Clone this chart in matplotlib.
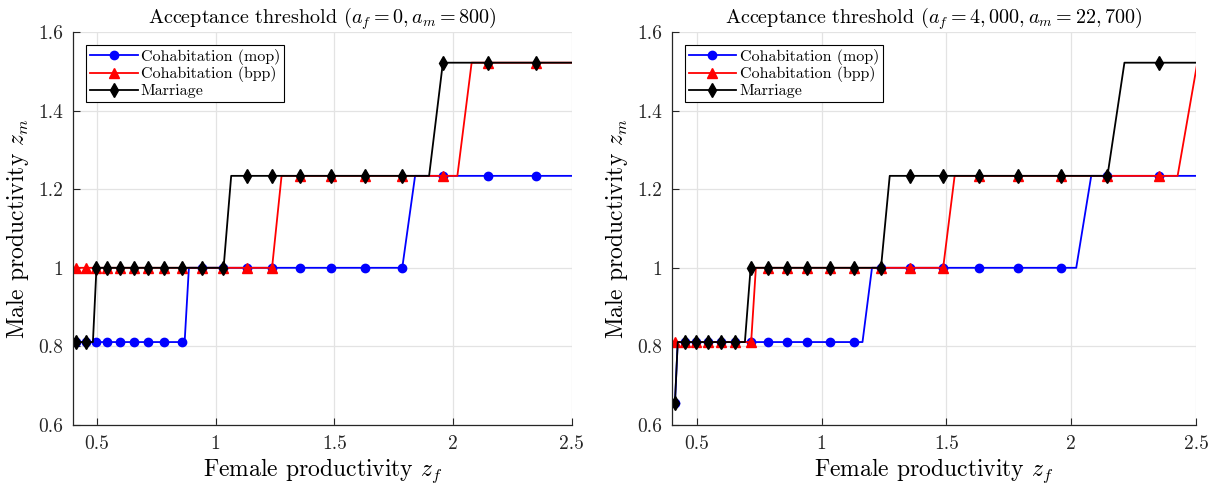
import matplotlib
matplotlib.use("Agg")
import matplotlib.pyplot as plt
from matplotlib.lines import Line2D

plt.rcParams['font.family'] = 'serif'
plt.rcParams['font.serif'] = ['cmr10', 'DejaVu Serif']
plt.rcParams['mathtext.fontset'] = 'cm'
plt.rcParams['axes.unicode_minus'] = False
plt.rcParams['axes.formatter.use_mathtext'] = True

# Marker grid (female productivity), shared by both panels
xm = [0.413, 0.454, 0.499, 0.545, 0.596, 0.655, 0.716, 0.785, 0.861, 0.943,
      1.032, 1.131, 1.238, 1.356, 1.487, 1.630, 1.786, 1.957, 2.145, 2.350]

# Left panel: marker values
mop_L = [0.811, 0.811, 0.811, 0.811, 0.811, 0.811, 0.811, 0.811, 0.811, 1.0,
         1.0, 1.0, 1.0, 1.0, 1.0, 1.0, 1.0, 1.234, 1.234, 1.234]
bpp_L = [1.0, 1.0, 1.0, 1.0, 1.0, 1.0, 1.0, 1.0, 1.0, 1.0,
         1.0, 1.0, 1.0, 1.234, 1.234, 1.234, 1.234, 1.234, 1.522, 1.522]
mar_L = [0.811, 0.811, 1.0, 1.0, 1.0, 1.0, 1.0, 1.0, 1.0, 1.0,
         1.0, 1.234, 1.234, 1.234, 1.234, 1.234, 1.234, 1.522, 1.522, 1.522]

# Left panel: line corners
mop_Lx = [0.413, 0.870, 0.888, 1.786, 1.840, 2.5]
mop_Ly = [0.811, 0.811, 1.0, 1.0, 1.234, 1.234]
bpp_Lx = [0.413, 1.238, 1.278, 2.018, 2.078, 2.5]
bpp_Ly = [1.0, 1.0, 1.234, 1.234, 1.522, 1.522]
mar_Lx = [0.413, 0.484, 0.499, 1.034, 1.066, 1.899, 1.957, 2.5]
mar_Ly = [0.811, 0.811, 1.0, 1.0, 1.234, 1.234, 1.522, 1.522]

# Right panel: marker values
mop_R = [0.657, 0.811, 0.811, 0.811, 0.811, 0.811, 0.811, 0.811, 0.811, 0.811,
         0.811, 0.811, 1.0, 1.0, 1.0, 1.0, 1.0, 1.0, 1.234, 1.234]
bpp_R = [0.811, 0.811, 0.811, 0.811, 0.811, 0.811, 0.811, 1.0, 1.0, 1.0,
         1.0, 1.0, 1.0, 1.0, 1.0, 1.234, 1.234, 1.234, 1.234, 1.234]
mar_R = [0.657, 0.811, 0.811, 0.811, 0.811, 0.811, 1.0, 1.0, 1.0, 1.0,
         1.0, 1.0, 1.0, 1.234, 1.234, 1.234, 1.234, 1.234, 1.234, 1.522]

# Right panel: line corners
mop_Rx = [0.413, 0.424, 1.164, 1.202, 2.020, 2.080, 2.5]
mop_Ry = [0.657, 0.811, 0.811, 1.0, 1.0, 1.234, 1.234]
bpp_Rx = [0.413, 0.718, 0.737, 1.487, 1.533, 2.426, 2.505]
bpp_Ry = [0.811, 0.811, 1.0, 1.0, 1.234, 1.234, 1.522]
mar_Rx = [0.413, 0.424, 0.693, 0.716, 1.238, 1.273, 2.145, 2.213, 2.5]
mar_Ry = [0.657, 0.811, 0.811, 1.0, 1.0, 1.234, 1.234, 1.522, 1.522]

titles = [r'Acceptance threshold ($a_f = 0, a_m = 800$)',
          r'Acceptance threshold ($a_f = 4,000, a_m = 22,700$)']
labels = ['Cohabitation (mop)', 'Cohabitation (bpp)', 'Marriage']
xticks = [0.5, 1, 1.5, 2, 2.5]
xticklabels = ['0.5', '1', '1.5', '2', '2.5']
yticks = [0.6, 0.8, 1.0, 1.2, 1.4, 1.6]
yticklabels = ['0.6', '0.8', '1', '1.2', '1.4', '1.6']

styles = [dict(color='blue', marker='o', ms=6),
          dict(color='red', marker='^', ms=6.5),
          dict(color='black', marker='d', ms=7.5)]

fig = plt.figure(figsize=(12.22, 4.93), dpi=100)
ax1 = fig.add_axes([0.0597, 0.138, 0.4083, 0.797])
ax2 = fig.add_axes([0.5497, 0.138, 0.4291, 0.797])

panels = [
    (ax1, [(mop_Lx, mop_Ly, mop_L), (bpp_Lx, bpp_Ly, bpp_L), (mar_Lx, mar_Ly, mar_L)]),
    (ax2, [(mop_Rx, mop_Ry, mop_R), (bpp_Rx, bpp_Ry, bpp_R), (mar_Rx, mar_Ry, mar_R)]),
]

for i, (ax, series) in enumerate(panels):
    for (lx, ly, my), st in zip(series, styles):
        ax.plot(lx, ly, color=st['color'], lw=1.3)
        ax.plot(xm, my, linestyle='none', marker=st['marker'], ms=st['ms'],
                color=st['color'])
    ax.set_xlim(0.4, 2.5)
    ax.set_ylim(0.6, 1.6)
    ax.set_xticks(xticks)
    ax.set_xticklabels(xticklabels)
    ax.set_yticks(yticks)
    ax.set_yticklabels(yticklabels)
    ax.tick_params(direction='in', length=5, labelsize=14, colors='#262626',
                   top=False, right=False, pad=7)
    ax.grid(True, color='#e3e3e3', lw=0.9)
    ax.set_axisbelow(True)
    for s in ['top', 'right']:
        ax.spines[s].set_visible(False)
    for s in ['left', 'bottom']:
        ax.spines[s].set_color('#262626')
        ax.spines[s].set_linewidth(0.9)
    ax.set_title(titles[i], fontsize=14.5, pad=5)
    ax.set_xlabel(r'Female productivity $z_f$', fontsize=17, labelpad=3)
    ax.set_ylabel(r'Male productivity $z_m$', fontsize=17, labelpad=5)
    handles = [Line2D([], [], color=st['color'], marker=st['marker'],
                      ms=st['ms'], lw=1.3) for st in styles]
    leg = ax.legend(handles, labels, loc='upper left', fontsize=11.5,
                    bbox_to_anchor=(0.0, 1.0), borderaxespad=0.8,
                    fancybox=False, framealpha=1, edgecolor='black',
                    handlelength=3.0, handletextpad=0.2, labelspacing=0.1,
                    borderpad=0.25)
    leg.get_frame().set_linewidth(0.8)

fig.savefig('out.png', dpi=100)
